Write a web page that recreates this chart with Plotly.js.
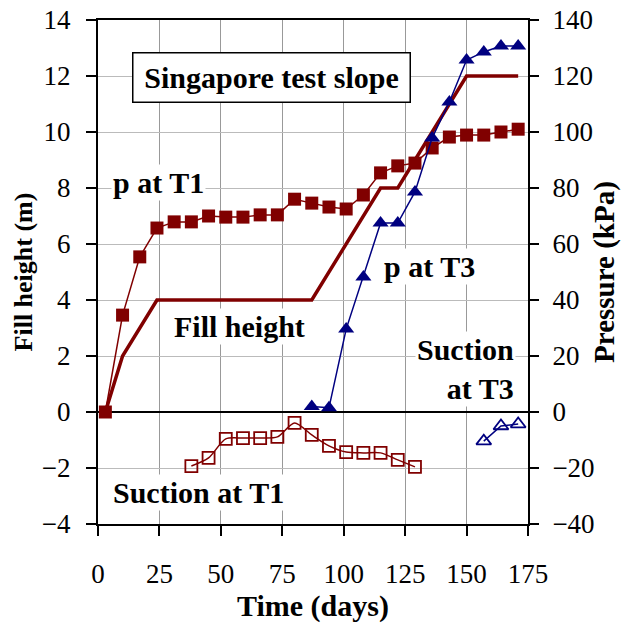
<!DOCTYPE html>
<html>
<head>
<meta charset="utf-8">
<script src="https://cdn.plot.ly/plotly-3.0.1.min.js"></script>
<style>html,body{margin:0;padding:0;background:#fff;}#chart{width:632px;height:629px;}</style>
</head>
<body>
<div id="chart"></div>
<script>
// Fill height (m), left axis
const fillDays = [3, 10, 24, 87, 115, 122, 150, 171];
const fillHeight = [0, 2, 4, 4, 8, 8, 12, 12];

// Pore pressure at T1 (kPa), right axis
const pT1Days = [3, 10, 17, 24, 31, 38, 45, 52, 59, 66, 73, 80, 87, 94, 101, 108, 115, 122, 129, 136, 143, 150, 157, 164, 171];
const pT1 = [0, 34.6, 55.4, 65.7, 67.9, 67.9, 70, 69.6, 69.6, 70.4, 70.4, 76, 74.6, 73.2, 72.5, 77.5, 85.4, 87.9, 88.9, 94.3, 98.2, 98.9, 98.9, 100, 101];

// Pore pressure at T3 (kPa), right axis
const pT3Days = [87, 94, 101, 108, 115, 122, 129, 136, 143, 150, 157, 164, 171];
const pT3 = [2, 1.5, 29.6, 48.2, 67.5, 67.5, 78.6, 97.9, 110.7, 125.7, 128.6, 130.7, 130.7];

// Suction at T1 (kPa), right axis
const sT1Days = [38, 45, 52, 59, 66, 73, 80, 87, 94, 101, 108, 115, 122, 129];
const sT1 = [-19.3, -16.4, -9.6, -9.3, -9.3, -8.9, -3.9, -8.2, -12.1, -14.3, -14.6, -14.6, -17.1, -19.6];

// Suction at T3 (kPa), right axis
const sT3Days = [157, 164, 171];
const sT3 = [-10.4, -5, -4.3];

const xTicks = [0, 25, 50, 75, 100, 125, 150, 175];

const maroon = '#800000';
const navy = '#000080';
const serif = 'Liberation Serif, Times New Roman, serif';

const traces = [
  {x: fillDays, y: fillHeight, yaxis: 'y', mode: 'lines', line: {color: maroon, width: 3.5}, name: 'Fill height'},
  {x: pT1Days, y: pT1, yaxis: 'y2', mode: 'lines+markers', line: {color: maroon, width: 1.5},
   marker: {symbol: 'square', size: 13, color: maroon}, name: 'p at T1'},
  {x: pT3Days, y: pT3, yaxis: 'y2', mode: 'lines+markers', line: {color: navy, width: 1.5},
   marker: {symbol: 'triangle-up', size: 14, color: navy}, name: 'p at T3'},
  {x: sT1Days, y: sT1, yaxis: 'y2', mode: 'lines+markers', line: {color: maroon, width: 1.5, shape: 'spline', smoothing: 0.8},
   marker: {symbol: 'square-open', size: 12, color: maroon, line: {width: 1.8, color: maroon}}, name: 'Suction at T1'},
  {x: sT3Days, y: sT3, yaxis: 'y2', mode: 'lines+markers', line: {color: navy, width: 1.5},
   marker: {symbol: 'triangle-up-open', size: 13, color: navy, line: {width: 1.8, color: navy}}, name: 'Suction at T3'}
];

const annFont = {family: serif, size: 30, color: '#000'};
const layout = {
  width: 632, height: 629,
  margin: {l: 98, r: 104, t: 20, b: 105},
  paper_bgcolor: '#fff', plot_bgcolor: '#fff',
  showlegend: false,
  font: {family: serif, color: '#000'},
  xaxis: {
    range: [0, 175], tickvals: xTicks, ticktext: xTicks.map(String),
    showgrid: true, gridcolor: '#999', gridwidth: 1,
    showline: true, linecolor: '#000', linewidth: 2, mirror: true,
    ticks: 'outside', ticklen: 10, tickwidth: 2, tickcolor: '#000',
    tickfont: {family: serif, size: 27}, ticklabelstandoff: 15, zeroline: false,
    title: {text: '<b>Time (days)</b>', font: {family: serif, size: 30}, standoff: 6}
  },
  yaxis: {
    range: [-4, 14], dtick: 2, tick0: 0,
    showgrid: true, gridcolor: '#bbb', gridwidth: 1,
    zeroline: true, zerolinecolor: '#000', zerolinewidth: 2,
    showline: true, linecolor: '#000', linewidth: 2,
    ticks: 'outside', ticklen: 10, tickwidth: 2, tickcolor: '#000',
    tickfont: {family: serif, size: 27}, ticklabelstandoff: 10,
    title: {text: '<b>Fill height (m)</b>', font: {family: serif, size: 26}, standoff: 2}
  },
  yaxis2: {
    range: [-40, 140], dtick: 20, tick0: 0, overlaying: 'y', side: 'right',
    showgrid: false, zeroline: false,
    showline: true, linecolor: '#000', linewidth: 2,
    ticks: 'outside', ticklen: 9, tickwidth: 2, tickcolor: '#000',
    tickfont: {family: serif, size: 27}, ticklabelstandoff: 8,
    title: {text: '<b>Pressure (kPa)</b>', font: {family: serif, size: 29}, standoff: 0}
  },
  annotations: [
    {x: 70.8, y: 11.96, xref: 'x', yref: 'y', text: '<b>Singapore test slope</b>', showarrow: false,
     font: annFont, bgcolor: '#fff', bordercolor: '#000', borderwidth: 1.5, borderpad: 4, width: 268, height: 40},
    {x: 5.3, y: 8.18, xref: 'x', yref: 'y', xanchor: 'left', text: '<b>p at T1</b>', showarrow: false,
     font: annFont, bgcolor: '#fff'},
    {x: 57.7, y: 3.04, xref: 'x', yref: 'y', text: '<b>Fill height</b>', showarrow: false,
     font: annFont, bgcolor: '#fff'},
    {x: 5.3, y: -2.86, xref: 'x', yref: 'y', xanchor: 'left', text: '<b>Suction at T1</b>', showarrow: false,
     font: annFont, bgcolor: '#fff'},
    {x: 115.7, y: 5.18, xref: 'x', yref: 'y', xanchor: 'left', text: '<b>p at T3</b>', showarrow: false,
     font: annFont, bgcolor: '#fff'},
    {x: 170.2, y: 1.55, xref: 'x', yref: 'y', xanchor: 'right', align: 'right', text: '<b>Suction<br>at T3</b>', showarrow: false,
     font: annFont, bgcolor: '#fff'}
  ]
};

Plotly.newPlot('chart', traces, layout, {displayModeBar: false, staticPlot: true});
</script>
</body>
</html>
